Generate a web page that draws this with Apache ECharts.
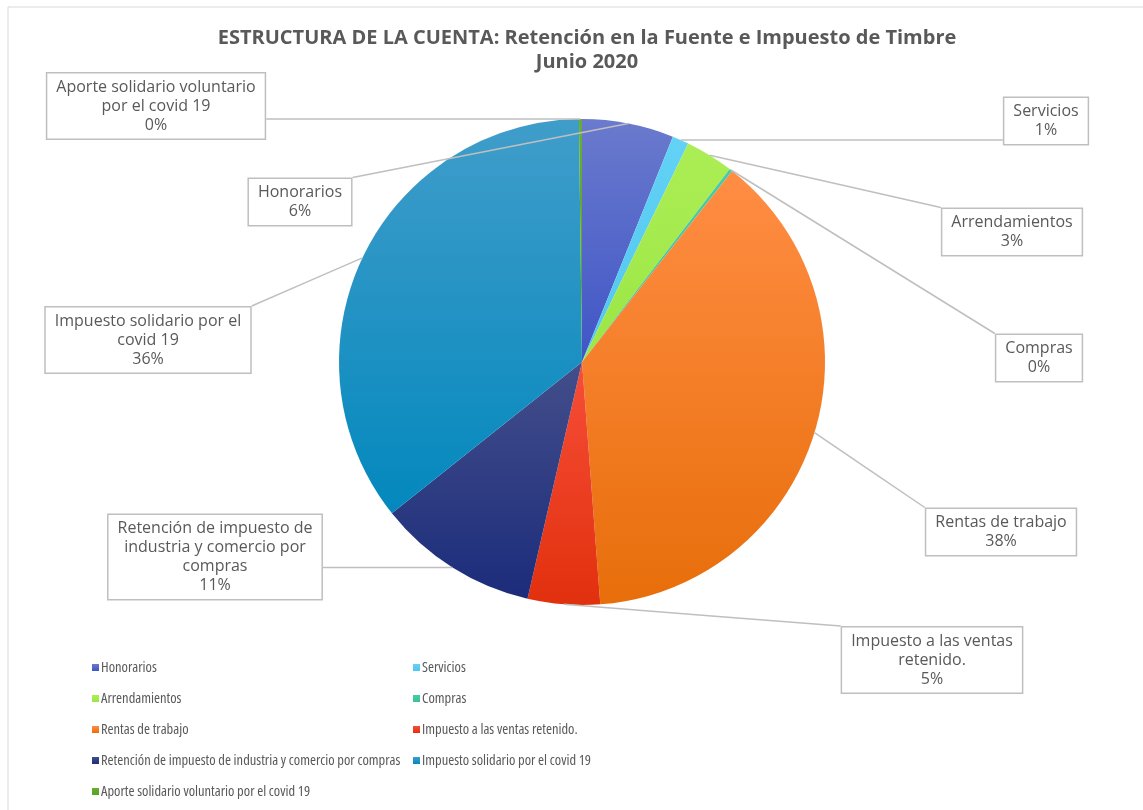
<!DOCTYPE html>
<html>
<head>
<meta charset="utf-8">
<script src="https://cdn.jsdelivr.net/npm/echarts@6/dist/echarts.min.js"></script>
<style>
  html, body { margin: 0; padding: 0; background: #fff; }
  #chart { width: 1143px; height: 810px; }
</style>
</head>
<body>
<div id="chart"></div>
<script>
// data (shares in %)
var categories = [
  'Honorarios', 'Servicios', 'Arrendamientos', 'Compras', 'Rentas de trabajo',
  'Impuesto a las ventas retenido.', 'Retención de impuesto de industria y comercio por compras',
  'Impuesto solidario por el covid 19', 'Aporte solidario voluntario por el covid 19'
];
var values = [6.1, 1.1, 3.2, 0.2, 38.2, 4.8, 10.7, 35.5, 0.2];
// callout text as it wraps in the boxes
var calloutNames = [
  'Honorarios', 'Servicios', 'Arrendamientos', 'Compras', 'Rentas de trabajo',
  'Impuesto a las ventas\nretenido.', 'Retención de impuesto de\nindustria y comercio por\ncompras',
  'Impuesto solidario por el\ncovid 19', 'Aporte solidario voluntario\npor el covid 19'
];

// where each callout box sits (centre of box)
var calloutPos = [
  [300, 202], [1046, 121], [1012, 232], [1039, 358], [1001, 532],
  [932, 660], [215, 557], [148, 340], [156, 106]
];

var sliceColors = [
  ['#6a7acd', '#4055c6'],
  ['#62d2f5', '#52c6f0'],
  ['#acee55', '#9be645'],
  ['#45cca6', '#38c29c'],
  ['#ff8d44', '#e86e0a'],
  ['#f74e38', '#e1300e'],
  ['#434e8a', '#1c2c7b'],
  ['#409dca', '#0388bd'],
  ['#66ad30', '#58a028']
];

var chart = echarts.init(document.getElementById('chart'));

var pieData = categories.map(function (name, i) {
  return {
    name: name,
    value: values[i],
    itemStyle: {
      color: {
        type: 'linear', x: 0, y: 0, x2: 0, y2: 1,
        colorStops: [
          { offset: 0, color: sliceColors[i][0] },
          { offset: 1, color: sliceColors[i][1] }
        ]
      }
    }
  };
});

// the legend font in the picture is condensed: take the narrowest face we have
// and size it so the longest entry fits in its column
var ctx = document.createElement('canvas').getContext('2d');
var legendFont = { style: '', family: 'Lato', width: Infinity };
[['condensed', "'Open Sans'"], ['condensed', "'Noto Sans'"], ['', 'Lato']].forEach(function (f) {
  ctx.font = '10px serif';
  ctx.font = (f[0] ? f[0] + ' ' : '') + '14px ' + f[1];
  if (ctx.font.indexOf('14px') < 0) return;
  var w = ctx.measureText(categories[6]).width;
  if (w < legendFont.width) legendFont = { style: f[0], family: f[1], width: w };
});
var legendSize = Math.min(14.5, 14 * 304 / legendFont.width);

var legendText = {
  fontFamily: legendFont.family,
  fontStyle: legendFont.style || 'normal',
  fontSize: legendSize,
  color: '#595959',
  lineHeight: 14,
  padding: [0, 0, 0, -3]
};

function legendBlock(names, left) {
  return {
    data: names,
    orient: 'vertical',
    left: left,
    top: 660,
    padding: 0,
    icon: 'rect',
    itemWidth: 7,
    itemHeight: 7,
    itemGap: 16,
    textStyle: legendText
  };
}

var labelStyle = {
  show: true,
  position: 'outside',
  formatter: function (p) {
    return calloutNames[p.dataIndex] + '\n' + p.percent + '%';
  },
  fontFamily: "'Open Sans', sans-serif",
  fontSize: 16,
  color: '#595959',
  lineHeight: 19,
  align: 'center',
  backgroundColor: '#fff',
  borderColor: '#bfbfbf',
  borderWidth: 1.5,
  padding: [4, 9]
};

var option = {
  backgroundColor: '#fff',
  animation: false,
  title: {
    text: 'ESTRUCTURA DE LA CUENTA: Retención en la Fuente e Impuesto de Timbre\nJunio 2020',
    left: 582,
    top: 21,
    textAlign: 'center',
    textStyle: {
      fontFamily: "'Open Sans', sans-serif",
      fontSize: 20,
      fontWeight: 'bold',
      color: '#595959',
      lineHeight: 24
    }
  },
  graphic: [{
    type: 'rect',
    shape: { x: 8, y: 7, width: 1140, height: 810 },
    style: { fill: 'none', stroke: '#d9d9d9', lineWidth: 1 },
    silent: true
  }],
  legend: [
    legendBlock([categories[0], categories[2], categories[4], categories[6], categories[8]], 92),
    legendBlock([categories[1], categories[3], categories[5], categories[7]], 413)
  ],
  series: [
    {
      // coloured slices
      name: 'Estructura',
      type: 'pie',
      center: [582, 362],
      radius: 243,
      startAngle: 90,
      clockwise: true,
      percentPrecision: 0,
      data: pieData,
      itemStyle: { borderWidth: 0 },
      label: { show: false },
      labelLine: { show: false },
      emphasis: { disabled: true }
    },
    {
      // same data again, invisible, only to carry the callouts above the slices
      name: 'Callouts',
      type: 'pie',
      z: 5,
      center: [582, 362],
      radius: 243,
      startAngle: 90,
      clockwise: true,
      percentPrecision: 0,
      avoidLabelOverlap: false,
      silent: true,
      data: categories.map(function (name, i) { return { name: name, value: values[i] }; }),
      itemStyle: { color: 'rgba(0,0,0,0)', borderWidth: 0 },
      label: labelStyle,
      labelLine: {
        show: true,
        length: 10,
        length2: 10,
        lineStyle: { color: '#bfbfbf', width: 1.5 }
      },
      labelLayout: function (params) {
        var pos = calloutPos[params.dataIndex];
        var w = params.labelRect.width, h = params.labelRect.height;
        var out = { x: pos[0], y: pos[1], align: 'center', verticalAlign: 'middle' };
        var pts = params.labelLinePoints;
        if (pts && pts.length) {
          var s = pts[0];
          var ex = Math.min(Math.max(s[0], pos[0] - w / 2), pos[0] + w / 2);
          var ey = Math.min(Math.max(s[1], pos[1] - h / 2), pos[1] + h / 2);
          out.labelLinePoints = [[s[0], s[1]], [(s[0] + ex) / 2, (s[1] + ey) / 2], [ex, ey]];
        }
        return out;
      },
      emphasis: { disabled: true }
    }
  ]
};

chart.setOption(option);
</script>
</body>
</html>
